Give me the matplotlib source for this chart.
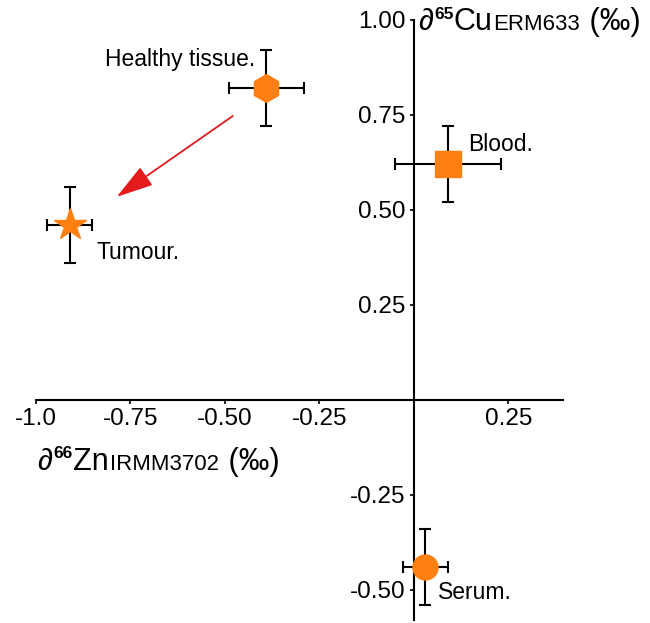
import matplotlib
matplotlib.use('Agg')
import matplotlib.pyplot as plt

plt.rcParams['font.family'] = ['Liberation Sans', 'DejaVu Sans']

# data
samples = ['Healthy tissue.', 'Blood.', 'Tumour.', 'Serum.']
zn = [-0.39, 0.09, -0.91, 0.03]
cu = [0.82, 0.62, 0.46, -0.44]
zn_err = [0.10, 0.14, 0.06, 0.06]
cu_err = [0.10, 0.10, 0.10, 0.10]
markers = ['h', 's', '*', 'o']
msizes = [20, 19, 24, 18]

xticks = [-1.0, -0.75, -0.50, -0.25, 0.25]
xticklabels = ['-1.0', '-0.75', '-0.50', '-0.25', '0.25']
yticks = [1.00, 0.75, 0.50, 0.25, -0.25, -0.50]
yticklabels = ['1.00', '0.75', '0.50', '0.25', '-0.25', '-0.50']

orange = '#FF7F10'

fig = plt.figure(figsize=(6.5, 6.23), dpi=100)
ax = fig.add_axes([0.055, 0.005, 0.811, 0.963])

for i in range(len(samples)):
    ax.errorbar(zn[i], cu[i], xerr=zn_err[i], yerr=cu_err[i], fmt='none',
                ecolor='black', elinewidth=1.5, capsize=4, capthick=1.5, zorder=2)
    ax.plot(zn[i], cu[i], marker=markers[i], ms=msizes[i], color=orange,
            mec=orange, ls='none', zorder=3)

# sample labels
lab_fs = 16.5
ax.text(-0.42, 0.895, samples[0], ha='right', va='center', fontsize=lab_fs)
ax.text(0.143, 0.671, samples[1], ha='left', va='center', fontsize=lab_fs)
ax.text(-0.839, 0.387, samples[2], ha='left', va='center', fontsize=lab_fs)
ax.text(0.063, -0.508, samples[3], ha='left', va='center', fontsize=lab_fs)

# arrow healthy -> tumour
ax.annotate('', xy=(-0.786, 0.534), xytext=(-0.479, 0.747),
            arrowprops=dict(arrowstyle='-|>,head_length=1.15,head_width=0.34',
                            mutation_scale=20, color='#E41A1C', lw=1.3,
                            shrinkA=0, shrinkB=0))

# axes crossing at zero
ax.spines['left'].set_position(('data', 0))
ax.spines['bottom'].set_position(('data', 0))
ax.spines['right'].set_visible(False)
ax.spines['top'].set_visible(False)
for s in ['left', 'bottom']:
    ax.spines[s].set_linewidth(1.5)

ax.set_xlim(-1.0, 0.394)
ax.set_ylim(-0.58, 1.0)
ax.set_xticks(xticks)
ax.set_xticklabels(xticklabels)
ax.set_yticks(yticks)
ax.set_yticklabels(yticklabels)
ax.tick_params(labelsize=17.5, length=3, width=1.2, pad=3)


def axis_label(x, y, sup, main, sub):
    # pieces on one baseline: superscript mass number, element, small reference name
    t = ax.text(x, y, '∂', fontsize=22, ha='left', va='baseline')
    pieces = [(sup, 12.5, 8, 'bold'), (main, 22, 0, 'normal'),
              (sub, 16, 0, 'normal'), (' (‰)', 22, 0, 'normal')]
    for s, fs, dy, w in pieces:
        t = ax.annotate(s, xy=(1, y), xycoords=(t, 'data'), xytext=(0.5, dy),
                        textcoords='offset points', fontsize=fs, fontweight=w,
                        ha='left', va='baseline')


axis_label(0.011, 0.974, '65', 'Cu', 'ERM633')
axis_label(-0.995, -0.184, '66', 'Zn', 'IRMM3702')

fig.savefig('out.png', dpi=100)
